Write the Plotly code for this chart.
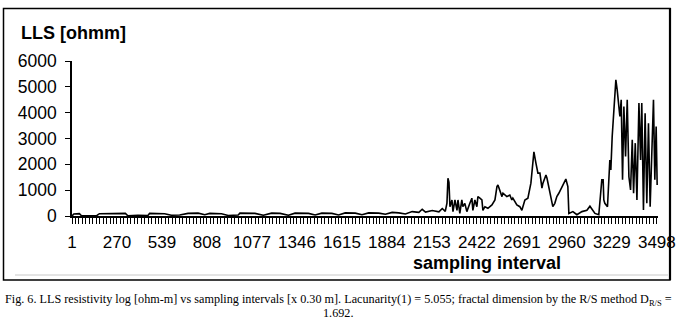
import plotly.graph_objects as go

# ---- data ----
sample_index = [
    1, 12, 45, 58, 150, 165, 320, 335, 395, 455, 465, 555, 595, 645, 695, 755, 795, 825,
    895, 935, 995, 1005, 1095, 1145, 1195, 1245, 1295, 1335, 1415, 1455, 1495, 1555, 1595,
    1635, 1695, 1735, 1775, 1835, 1875, 1915, 1955, 1995, 2035, 2075, 2095, 2115, 2155,
    2195, 2215, 2233, 2243, 2249, 2255, 2261,
    2273, 2279, 2291, 2303, 2309, 2320, 2332, 2338, 2350, 2362, 2380, 2392, 2398, 2410,
    2422, 2428, 2440, 2452, 2458, 2470, 2488, 2512, 2530, 2542, 2548, 2560, 2572, 2578,
    2601, 2619, 2631, 2637, 2661, 2679, 2691, 2709, 2727, 2745, 2757, 2763, 2775, 2787,
    2799, 2811, 2817, 2835, 2841, 2853, 2865, 2876, 2888, 2900, 2912, 2930, 2942, 2954,
    2966, 2972, 2996, 3020, 3050, 3080, 3098, 3116, 3128, 3151, 3169, 3177,
    3181, 3187, 3203, 3217, 3223, 3231, 3241, 3253, 3261, 3269, 3277, 3285, 3293, 3301,
    3311, 3321, 3331, 3341, 3351, 3359, 3369, 3379, 3391, 3401, 3408, 3418, 3428, 3438,
    3448, 3458, 3468, 3478, 3486, 3494, 3500,
]
lls_ohmm = [
    0, 80, 90, 10, 20, 90, 100, 10, 30, 20, 100, 90, 30, 40, 100, 110, 50, 100,
    90, 20, 40, 110, 100, 30, 110, 100, 30, 110, 100, 40, 110, 100, 40,
    120, 110, 50, 120, 110, 70, 140, 120, 80, 170, 140, 260, 150, 210,
    160, 290, 180, 500, 1460, 1300, 360,
    620, 170, 620, 220, 620, 100, 620, 360, 490, 170, 490, 690, 220, 620,
    360, 750, 690, 620, 220, 360, 300, 430, 620, 1140, 1200, 940, 750, 880,
    750, 810, 620, 690, 430, 360, 220, 620, 690, 1270, 1920, 2480, 2050, 1660,
    1660, 1080, 1270, 1590, 1470, 1080, 620, 360, 490, 750, 880, 1140, 1270, 1430,
    1140, 100, 170, 50, 170, 220, 380, 220, 100, 50, 1400, 1400,
    620, 490, 360, 2170, 1780, 3070, 4110, 5270, 4880, 4370, 3850, 4500, 1400, 4240,
    2300, 4500, 1520, 1010, 2950, 880, 2820, 620, 4370, 2170, 4370, 230, 3980, 490,
    3590, 360, 2820, 4500, 1400, 3460, 1200,
]
x_tick_labels = ["1", "270", "539", "808", "1077", "1346", "1615", "1884",
                 "2153", "2422", "2691", "2960", "3229", "3498"]
x_tick_values = [int(t) for t in x_tick_labels]
y_tick_values = [0, 1000, 2000, 3000, 4000, 5000, 6000]

# ---- layout geometry (pixels) ----
W, H = 677, 327
L, R, T, B = 72, 658, 61, 216


def px(x):
    return (x - L) / (R - L)


def py(y):
    return (B - y) / (B - T)


SANS = "Liberation Sans, Arial, sans-serif"
SERIF = "Liberation Serif, Times New Roman, serif"

fig = go.Figure(
    go.Scatter(x=sample_index, y=lls_ohmm, mode="lines",
               line=dict(color="black", width=1.6), hoverinfo="skip")
)

fig.update_layout(
    width=W, height=H,
    margin=dict(l=L, r=W - R, t=T, b=H - B, pad=0, autoexpand=False),
    paper_bgcolor="white", plot_bgcolor="white",
    showlegend=False,
    font=dict(family=SANS, color="black"),
)

fig.update_xaxes(
    range=[1, 3505], automargin=False,
    tickmode="array", tickvals=x_tick_values, ticktext=x_tick_labels,
    ticks="outside", ticklen=6, tickwidth=1, tickcolor="black",
    tickfont=dict(family=SANS, size=17, color="black"),
    ticklabelstandoff=4,
    showline=True, linecolor="black", linewidth=1.5,
    showgrid=False, zeroline=False,
    minor=dict(ticks="outside", ticklen=6, tickwidth=1, tickcolor="black",
               tickmode="linear", tick0=1, dtick=269 / 13, showgrid=False),
)
fig.update_yaxes(
    range=[0, 6000], automargin=False,
    tickmode="array", tickvals=y_tick_values,
    ticks="outside", ticklen=5, tickwidth=1, tickcolor="black",
    tickfont=dict(family=SANS, size=17.5, color="black"),
    ticklabelstandoff=5,
    showline=True, linecolor="black", linewidth=1.5,
    showgrid=False, zeroline=False,
)

annotations = [
    dict(text="<b>LLS [ohmm]</b>", x=px(19), y=py(33), xanchor="left", yanchor="middle",
         font=dict(family=SANS, size=18, color="black")),
    dict(text="<b>sampling interval</b>", x=px(487), y=py(263), xanchor="center", yanchor="middle",
         font=dict(family=SANS, size=18, color="black")),
    dict(text="Fig. 6. LLS resistivity log [ohm-m] vs sampling intervals [x 0.30 m]. "
              "Lacunarity(1) = 5.055; fractal dimension by the R/S method D<sub>R/S</sub> =",
         x=px(338), y=py(300), xanchor="center", yanchor="middle",
         font=dict(family=SERIF, size=12.2, color="black")),
    dict(text="1.692.", x=px(338), y=py(313), xanchor="center", yanchor="middle",
         font=dict(family=SERIF, size=12.2, color="black")),
]
for a in annotations:
    a.update(xref="paper", yref="paper", showarrow=False)
fig.update_layout(annotations=annotations)

shapes = [
    dict(type="rect", x0=px(3.5), x1=px(670), y0=py(8.5), y1=py(280),
         line=dict(color="black", width=1.5)),
    dict(type="line", x0=px(670), x1=px(670), y0=py(8), y1=py(280),
         line=dict(color="black", width=2.2)),
    dict(type="line", x0=px(15), x1=px(668), y0=py(275), y1=py(275),
         line=dict(color="#c8c8c8", width=1)),
]
for s in shapes:
    s.update(xref="paper", yref="paper", layer="above")
fig.update_layout(shapes=shapes)

# remove the browser's default 8px body margin so the figure sits at the page origin
fig.write_html(
    "out.html",
    config={"displayModeBar": False},
    post_script="document.body.style.margin='0';document.body.style.overflow='hidden';",
)
